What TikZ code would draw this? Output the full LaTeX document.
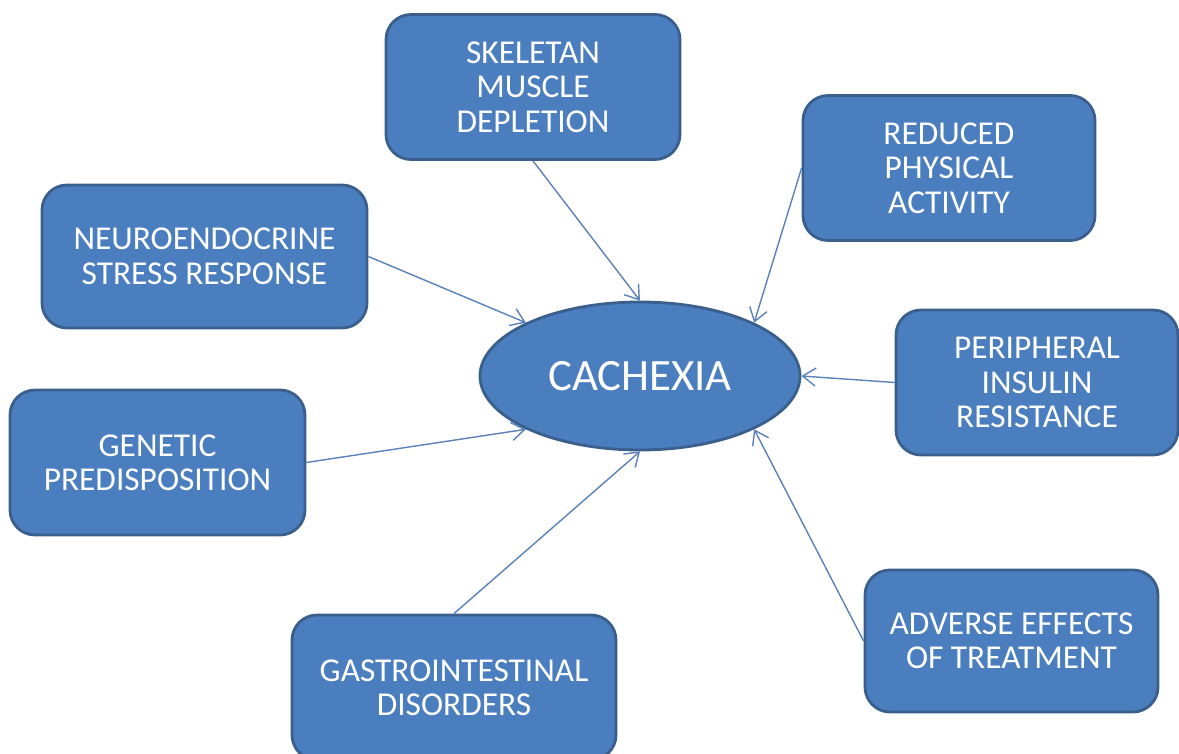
\documentclass[tikz,border=0pt]{standalone}
\usepackage{fontspec}
\setmainfont{Carlito}
\usepackage{xcolor}
\usetikzlibrary{arrows.meta,positioning,shapes.geometric}

\definecolor{boxfill}{HTML}{4A7EBF}
\definecolor{boxline}{HTML}{3A5F8C}
\definecolor{arrline}{HTML}{5A82B8}

\tikzset{
  causebox/.style={draw=boxline, line width=1.6pt, fill=boxfill, rounded corners=0.5cm,
    text=white, align=center, minimum width=5.88cm, minimum height=2.9cm,
    font=\fontsize{19}{19.6}\selectfont},
  centre/.style={ellipse, draw=boxline, line width=1.6pt, fill=boxfill, text=white,
    minimum width=6.4cm, minimum height=2.96cm, inner sep=0pt,
    font=\fontsize{25.5}{28}\selectfont},
  arr/.style={draw=arrline, line width=0.8pt, -{Straight Barb[length=2.6mm,width=3.6mm]}}
}

\begin{document}
\begin{tikzpicture}
  \useasboundingbox (0,0) rectangle (23.58,15.06);
  % centre
  \node[centre] (cach) at (12.8,7.54) {CACHEXIA};
  % causes
  \node[causebox] (skel) at (10.66,13.32) {SKELETAN\\MUSCLE\\DEPLETION};
  \node[causebox, minimum width=5.84cm] (redu) at (18.98,11.70) {REDUCED\\PHYSICAL\\ACTIVITY};
  \node[causebox, minimum width=6.5cm, minimum height=2.86cm] (neuro) at (4.09,9.93) {NEUROENDOCRINE\\STRESS RESPONSE};
  \node[causebox, minimum width=5.64cm] (peri) at (20.74,7.41) {PERIPHERAL\\INSULIN\\RESISTANCE};
  \node[causebox, minimum width=5.9cm] (gene) at (3.15,5.81) {GENETIC\\PREDISPOSITION};
  \node[causebox, minimum width=6.48cm] (gast) at (9.08,1.31) {GASTROINTESTINAL\\DISORDERS};
  \node[causebox, minimum width=5.86cm, minimum height=2.84cm] (adve) at (20.23,2.24) {ADVERSE EFFECTS\\OF TREATMENT};
  % arrows
  \draw[arr] (skel.south) -- (cach.north);
  \draw[arr] (redu.west) -- (cach.north east);
  \draw[arr] (neuro.east) -- (cach.north west);
  \draw[arr] (peri.west) -- (cach.east);
  \draw[arr] (gene.east) -- (cach.south west);
  \draw[arr] (gast.north) -- (cach.south);
  \draw[arr] (adve.west) -- (cach.south east);
\end{tikzpicture}
\end{document}
